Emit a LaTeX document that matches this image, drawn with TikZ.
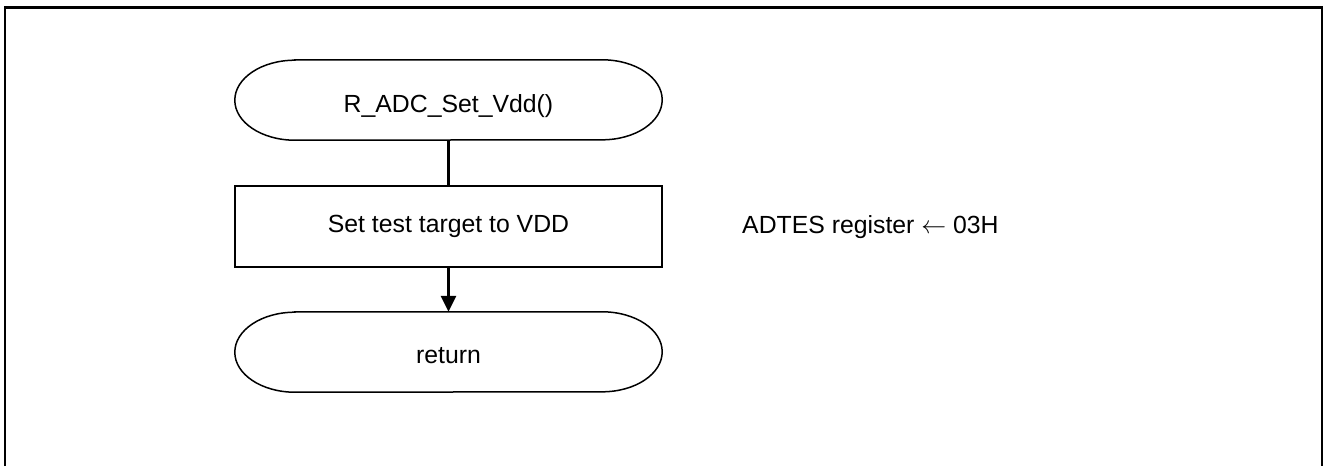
\documentclass[tikz,border=0pt]{standalone}
\usepackage{fontspec}
\setmainfont{Liberation Sans}
\usetikzlibrary{arrows.meta}
\begin{document}
\begin{tikzpicture}[x=1pt,y=1pt,
  lbl/.style={font=\fontsize{24.8}{30}\selectfont, inner sep=0pt},
  termbox/.style={minimum width=427pt, minimum height=80pt, inner sep=0pt, font=\fontsize{24.8}{30}\selectfont},
  procbox/.style={draw, line width=1.5pt, minimum width=427pt, minimum height=81pt, inner sep=0pt, font=\fontsize{24.8}{30}\selectfont},
  conn/.style={line width=3pt},
  termline/.style={line width=1.5pt}]
\useasboundingbox (0,0) rectangle (1325,-466);
% frame
\draw[line width=2.5pt] (5,-466) -- (5,-7.5) -- (1322,-7.5) -- (1322,-466);
% nodes
\node[termbox] (start) at (448.5,-100) {};
\node[lbl] (starttxt) at (448.5,-106) {R\_ADC\_Set\_Vdd()};
\node[procbox] (proc) at (448.5,-226.5) {Set test target to VDD};
\node[termbox] (ret) at (448.5,-352) {};
\node[lbl] (rettxt) at (448.5,-356) {return};
\node[lbl, anchor=west] (note) at (742,-227) {ADTES register $\leftarrow$ 03H};
% terminal outlines
\draw[termline] ([xshift=60pt]start.north west) -- ([xshift=-60pt]start.north east)
  arc[start angle=90, end angle=-90, x radius=60pt, y radius=40pt]
  -- ([xshift=60pt]start.south west)
  arc[start angle=270, end angle=90, x radius=60pt, y radius=40pt] -- cycle;
\draw[termline] ([xshift=60pt]ret.north west) -- ([xshift=-60pt]ret.north east)
  arc[start angle=90, end angle=-90, x radius=60pt, y radius=40pt]
  -- ([xshift=60pt]ret.south west)
  arc[start angle=270, end angle=90, x radius=60pt, y radius=40pt] -- cycle;
% connectors
\draw[conn] (start.south) -- (proc.north);
\draw[conn, -{Triangle[length=16pt,width=15pt]}] (proc.south) -- (ret.north);
\end{tikzpicture}
\end{document}
